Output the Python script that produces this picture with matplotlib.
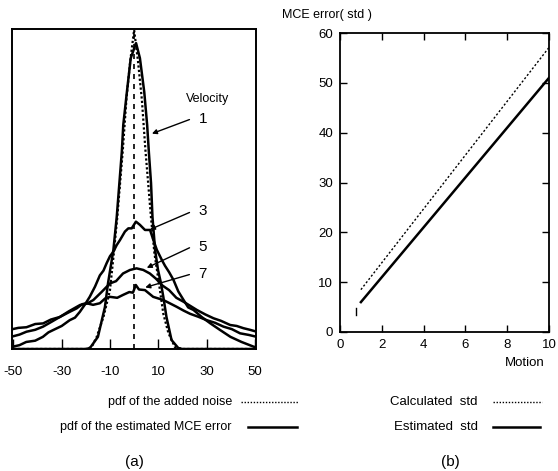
import matplotlib
matplotlib.use("Agg")
import matplotlib.pyplot as plt
from matplotlib.lines import Line2D

plt.rcParams['font.family'] = ['Liberation Sans', 'DejaVu Sans']

# (a) pdf curves
noise_x = [-50, -20, -17.6, -15.5, -12.7, -10, -8.4, -7, -5.8, -4.7, -3.2, -1.6, 0,
           1.6, 3.2, 4.7, 5.8, 7, 8.4, 10.7, 12.1, 14.2, 16.9, 20, 50]
noise_y = [0, 0, 0.006, 0.038, 0.10, 0.184, 0.30, 0.41, 0.52, 0.62, 0.78, 0.90, 0.997,
           0.90, 0.78, 0.62, 0.52, 0.41, 0.30, 0.184, 0.11, 0.05, 0.006, 0, 0]

v1_x = [-50, -20, -18.3, -15, -12.1, -10.8, -8.6, -7.2, -6.1, -5.1, -4.5, -3.0, -1.4, 0.8,
        2.4, 4.2, 5.4, 6.1, 7.0, 7.6, 8.7, 9.9, 11.0, 12.1, 13.4, 15.5, 18.3, 20, 50]
v1_y = [0, 0, 0.003, 0.038, 0.131, 0.206, 0.309, 0.413, 0.519, 0.616, 0.70, 0.803, 0.909, 0.956,
        0.909, 0.803, 0.70, 0.616, 0.519, 0.413, 0.309, 0.247, 0.21, 0.163, 0.10, 0.028, 0.003, 0, 0]

v3_x = [-51, -47.5, -44.7, -41, -37.8, -35.5, -33.6, -30, -26.7, -24.5, -22.5, -20.3, -18.4, -16.2,
        -14.2, -12.7, -11.4, -10, -8.6, -7.2, -5.9, -3.8, -2.4, -1, 0.75, 2.4, 4.5, 6.6, 8, 9.4,
        11.5, 12.8, 14.5, 16.3, 18.3, 20.5, 22.4, 24.6, 28, 31.6, 35.5, 39.9, 44.5, 49.6, 51]
v3_y = [0.006, 0.012, 0.022, 0.026, 0.038, 0.052, 0.059, 0.072, 0.09, 0.098, 0.116, 0.14, 0.163, 0.195,
        0.23, 0.245, 0.268, 0.29, 0.304, 0.325, 0.34, 0.367, 0.377, 0.377, 0.398, 0.388, 0.372, 0.372,
        0.34, 0.31, 0.278, 0.26, 0.24, 0.216, 0.18, 0.153, 0.13, 0.122, 0.10, 0.08, 0.06, 0.038, 0.022,
        0.007, 0.005]

v5_x = [-51, -48, -44.6, -41, -37.7, -34.5, -30.8, -27, -22.4, -19.5, -16.9, -13.5, -10, -7.5, -4.6,
        -1.7, 1, 3.8, 6.5, 9, 11.8, 14.5, 17.5, 20.4, 23, 26, 29.5, 32.9, 36, 39.8, 42.5, 45.3,
        48, 50.8]
v5_y = [0.061, 0.066, 0.068, 0.078, 0.08, 0.092, 0.10, 0.118, 0.1375, 0.142, 0.153, 0.178, 0.205,
        0.212, 0.236, 0.247, 0.252, 0.247, 0.236, 0.22, 0.198, 0.184, 0.16, 0.148, 0.136, 0.122,
        0.108, 0.096, 0.088, 0.075, 0.072, 0.065, 0.06, 0.054]

v7_x = [-51, -47.5, -44.6, -41, -37.7, -34, -30.8, -27, -23.8, -21.5, -19.7, -17, -14.2, -12, -10,
        -7, -4.6, -2, -0.5, 0.7, 2, 4.5, 7.9, 10, 12.1, 15, 17.6, 20.5, 23.2, 26.5, 30.1, 33.5,
        37, 40.5, 43.9, 47.5, 50.8]
v7_y = [0.038, 0.045, 0.054, 0.06, 0.07, 0.086, 0.10, 0.115, 0.127, 0.14, 0.143, 0.138, 0.143, 0.158,
        0.163, 0.16, 0.169, 0.178, 0.176, 0.2, 0.186, 0.184, 0.163, 0.158, 0.153, 0.142, 0.132,
        0.12, 0.11, 0.101, 0.09, 0.082, 0.07, 0.062, 0.049, 0.044, 0.038]

a_ticks = [-50, -30, -10, 10, 30, 50]
a_labels = ['-50', '-30', '-10', '10', '30', '50']
vel_labels = ['1', '3', '5', '7']
vel_tips = [(6.3, 0.67), (5.5, 0.37), (4.2, 0.25), (3.5, 0.19)]
vel_text_y = [0.72, 0.43, 0.32, 0.235]

# (b) MCE error std against motion
motion = [1, 2, 3, 4, 5, 6, 7, 8, 9, 10]
calc_std = [8.5, 13.9, 19.3, 24.7, 30.1, 35.5, 40.9, 46.3, 51.7, 57.1]
est_std = [6, 11, 16, 21, 26, 31, 36, 41, 46, 51]
stray_x = [0.75, 0.75]
stray_y = [3.4, 4.9]

W, H = 558, 471
fig = plt.figure(figsize=(W / 100, H / 100), dpi=100)

def fx(px):
    return px / W

def fy(py):
    return 1 - py / H

# ---- panel (a)
ax = fig.add_axes([fx(12), fy(349), fx(244), (349 - 29) / H])
ax.plot(noise_x, noise_y, color='black', lw=1.6, linestyle=(0, (1, 1)))
for xs, ys in [(v1_x, v1_y), (v3_x, v3_y), (v5_x, v5_y), (v7_x, v7_y)]:
    ax.plot(xs, ys, color='black', lw=1.8)
ax.axvline(0, color='black', lw=1.2, linestyle=(0, (3, 3)))
ax.set_xlim(-50.6, 50.5)
ax.set_ylim(0, 1.0)
ax.set_yticks([])
ax.set_xticks(a_ticks)
ax.set_xticklabels(a_labels, fontsize=9.5)
ax.tick_params(axis='x', direction='in', length=7, width=1, pad=12)
for s in ax.spines.values():
    s.set_linewidth(1.4)

ax.text(30.3, 0.78, 'Velocity', fontsize=9, ha='center', va='center')
for lab, tip, ty in zip(vel_labels, vel_tips, vel_text_y):
    ax.annotate('', xy=tip, xytext=(24, ty),
                arrowprops=dict(arrowstyle='-|>', color='black', lw=1, mutation_scale=7))
    ax.text(28.5, ty, lab, fontsize=11, ha='center', va='center')

# ---- panel (b)
bx = fig.add_axes([fx(340), fy(332), fx(209), (332 - 33) / H])
bx.plot(motion, calc_std, color='black', lw=1, linestyle=(0, (1.5, 1.5)))
bx.plot(motion, est_std, color='black', lw=1.8)
bx.plot(stray_x, stray_y, color='black', lw=1)
bx.set_xlim(0, 10)
bx.set_ylim(0, 60)
bx.set_xticks([0, 2, 4, 6, 8, 10])
bx.set_yticks([0, 10, 20, 30, 40, 50, 60])
bx.tick_params(direction='in', length=5, width=1, top=True, right=True, labelsize=9.5, pad=5)
for s in bx.spines.values():
    s.set_linewidth(1.3)
fig.text(fx(282), fy(15), 'MCE error( std )', fontsize=9, ha='left', va='center')
fig.text(fx(525), fy(363), 'Motion', fontsize=9.5, ha='center', va='center')

# ---- legends below the panels
fig.text(fx(232), fy(402), 'pdf of the added noise', fontsize=9, ha='right', va='center')
fig.text(fx(232), fy(427), 'pdf of the estimated MCE error', fontsize=9, ha='right', va='center')
fig.add_artist(Line2D([fx(241), fx(298)], [fy(402), fy(402)], transform=fig.transFigure,
                      color='black', lw=1, linestyle=(0, (1, 1.2))))
fig.add_artist(Line2D([fx(248), fx(297)], [fy(427), fy(427)], transform=fig.transFigure,
                      color='black', lw=1.8))

fig.text(fx(478), fy(402), 'Calculated  std', fontsize=9.5, ha='right', va='center')
fig.text(fx(478), fy(427), 'Estimated  std', fontsize=9.5, ha='right', va='center')
fig.add_artist(Line2D([fx(493), fx(542)], [fy(402), fy(402)], transform=fig.transFigure,
                      color='black', lw=1, linestyle=(0, (1, 1.2))))
fig.add_artist(Line2D([fx(493), fx(540)], [fy(427), fy(427)], transform=fig.transFigure,
                      color='black', lw=1.8))

fig.text(fx(134), fy(462), '(a)', fontsize=11, ha='center', va='center')
fig.text(fx(450), fy(462), '(b)', fontsize=11, ha='center', va='center')

fig.savefig('out.png', dpi=100)
